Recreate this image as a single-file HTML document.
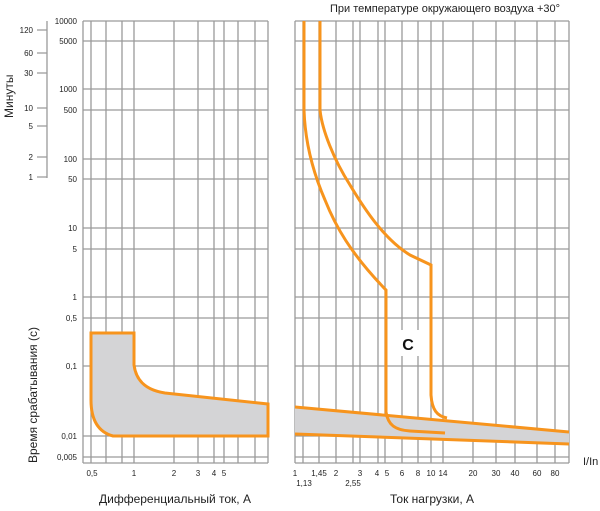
<!DOCTYPE html>
<html><head><meta charset="utf-8"><style>
body{margin:0;background:#fff;}
svg text{font-family:"Liberation Sans",sans-serif;fill:#222;}
</style></head><body>
<svg width="600" height="506" viewBox="0 0 600 506" xmlns="http://www.w3.org/2000/svg">
<g stroke="#9a9a9a" stroke-width="1.3" fill="none">
<!-- left panel verticals -->
<path d="M83 21V463M91 21V463M106 21V463M122 21V463M134 21V463M174 21V463M198 21V463M214 21V463M224 21V463M238 21V463M255 21V463M268 21V463"/>
<!-- right panel verticals -->
<path d="M295 21V463M303 21V463M319 21V463M336 21V463M353 21V463M360 21V463M378 21V463M385 21V463M402 21V463M418 21V463M431 21V463M443 21V463M473 21V463M496 21V463M515 21V463M537 21V463M555 21V463M569 21V463"/>
<!-- horizontals -->
<path d="M83 21H268M83 41H268M83 89H268M83 110H268M83 159H268M83 179H268M83 228H268M83 249H268M83 297H268M83 318H268M83 366H268M83 436H268M83 457H268M83 463H268"/>
<path d="M295 21H569M295 41H569M295 89H569M295 110H569M295 159H569M295 179H569M295 228H569M295 249H569M295 297H569M295 318H569M295 366H569M295 436H569M295 457H569M295 463H569"/>
<!-- minutes axis -->
<path d="M47 21V178M37 30H47M37 53H47M37 73H47M37 108H47M37 126H47M37 157H47M37 177H47"/>
</g>
<!-- left fill -->
<path d="M91 333H134V365C136 380 145 390 165 393L268 404V436H113C98 432 91 420 91 400Z" fill="#d4d4d6" stroke="#f7941d" stroke-width="3"/>
<!-- right band -->
<path d="M295 407L569 432V444L295 434Z" fill="#d4d4d6"/>
<path d="M295 407L569 432M295 434L569 444" stroke="#f7941d" stroke-width="3" fill="none"/>
<path d="M304 21V110C305 140 312 170 325 200C335 225 350 253 386 290V412C388 425 395 430 410 431L445 433" stroke="#f7941d" stroke-width="3" fill="none"/>
<path d="M320 21V110C322 130 334 160 350 185C365 210 385 240 410 255L431 265V395C432 410 437 416 447 418" stroke="#f7941d" stroke-width="3" fill="none"/>
<rect x="397" y="330" width="22" height="26" fill="#fff"/>
<text x="408" y="350" font-size="16" font-weight="bold" text-anchor="middle" style="fill:#111">C</text>
<!-- y labels -->
<g font-size="8" text-anchor="end">
<text x="77" y="24">10000</text><text x="77" y="44">5000</text><text x="77" y="92">1000</text><text x="77" y="113">500</text>
<text x="77" y="162">100</text><text x="77" y="182">50</text><text x="77" y="231">10</text><text x="77" y="252">5</text>
<text x="77" y="300">1</text><text x="77" y="321">0,5</text><text x="77" y="369">0,1</text><text x="77" y="439">0,01</text><text x="77" y="460">0,005</text>
<text x="33" y="33">120</text><text x="33" y="56">60</text><text x="33" y="76">30</text><text x="33" y="111">10</text><text x="33" y="129">5</text><text x="33" y="160">2</text><text x="33" y="180">1</text>
</g>
<g font-size="8" text-anchor="middle">
<text x="92" y="476">0,5</text><text x="134" y="476">1</text><text x="174" y="476">2</text><text x="198" y="476">3</text><text x="214" y="476">4</text><text x="224" y="476">5</text>
<text x="295" y="476">1</text><text x="319" y="476">1,45</text><text x="336" y="476">2</text><text x="360" y="476">3</text><text x="377" y="476">4</text><text x="387" y="476">5</text><text x="402" y="476">6</text><text x="418" y="476">8</text><text x="431" y="476">10</text><text x="443" y="476">14</text><text x="473" y="476">20</text><text x="496" y="476">30</text><text x="515" y="476">40</text><text x="537" y="476">60</text><text x="555" y="476">80</text>
<text x="304" y="486">1,13</text><text x="353" y="486">2,55</text>
</g>
<text x="583" y="465" font-size="11">I/In</text>
<text x="175" y="503" font-size="12" text-anchor="middle">Дифференциальный ток, А</text>
<text x="432" y="503" font-size="12" text-anchor="middle">Ток нагрузки, А</text>
<text x="445" y="12" font-size="11" text-anchor="middle">При температуре окружающего воздуха +30°</text>
<text transform="translate(13,118) rotate(-90)" font-size="12">Минуты</text>
<text transform="translate(37,463) rotate(-90)" font-size="12">Время срабатывания (с)</text>
</svg>
</body></html>
